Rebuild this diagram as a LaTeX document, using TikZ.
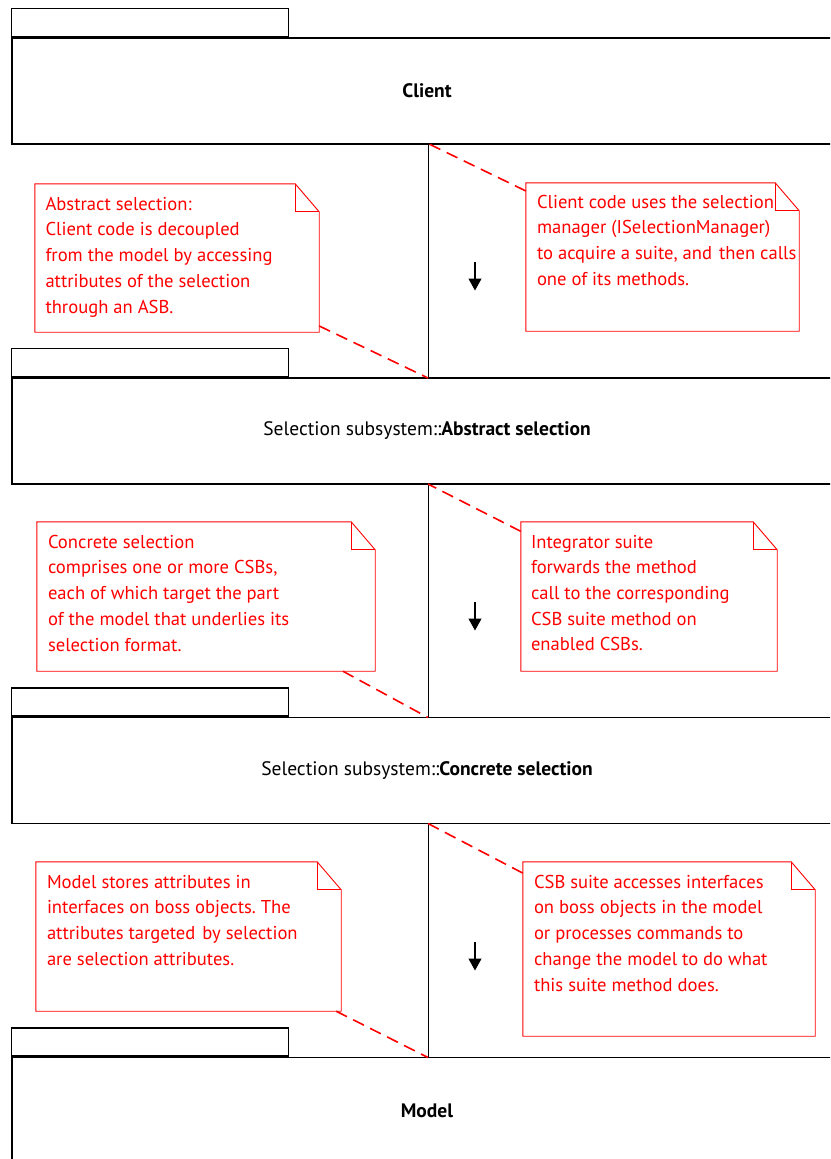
\documentclass[tikz,border=0pt]{standalone}
\usepackage{fontspec}
\setmainfont{PT Sans}
\usetikzlibrary{arrows.meta}
\frenchspacing

% outline of a UML note with a folded top-right corner, drawn round a node
\newcommand\foldnote[1]{%
  \draw[noteline] (#1.north west) -- ([xshift=-24]#1.north east)
    -- ([yshift=-28]#1.north east) -- (#1.south east) -- (#1.south west) -- cycle;
  \draw[noteline] ([xshift=-24]#1.north east) |- ([yshift=-28]#1.north east);
}
\newcommand\wsp{\hspace{7pt}}

\begin{document}
\begin{tikzpicture}[x=1pt,y=1pt,
  pkgbody/.style={draw=black, line width=1.7pt, rectangle, inner sep=0,
    minimum width=830, minimum height=106,
    font=\fontsize{19.5}{22}\selectfont},
  pkgtab/.style={draw=black, line width=1.2pt, rectangle, inner sep=0,
    minimum width=277, minimum height=28, anchor=south west},
  notebox/.style={draw=none, rectangle, inner sep=0},
  noteline/.style={draw=red, line width=0.9pt},
  notetext/.style={anchor=north west, inner sep=0, align=left, text=red,
    font=\fontsize{18.6}{25.7}\selectfont, execute at begin node=\strut},
  notelink/.style={draw=red, line width=1.6pt, dash pattern=on 12pt off 7pt},
  lifeline/.style={draw=black, line width=1pt},
  msgarrow/.style={draw=black, line width=1.1pt,
    -{Triangle[width=13pt,length=12pt]}}
]
\useasboundingbox (0,0) rectangle (830,-1159);
\clip (0,0) rectangle (830,-1159);

% packages
\node[pkgbody] (client) at (427,-91) {\textbf{Client}};
\node[pkgtab] (clienttab) at (client.north west) {};
\node[pkgbody] (abs) at (427,-431) {Selection subsystem::\textbf{Abstract selection}};
\node[pkgtab] (abstab) at (abs.north west) {};
\node[pkgbody] (conc) at (427,-770.5) {Selection subsystem::\textbf{Concrete selection}};
\node[pkgtab] (conctab) at (conc.north west) {};
\node[pkgbody] (model) at (427,-1110.5) {\textbf{Model}};
\node[pkgtab] (modeltab) at (model.north west) {};

% lifeline segments between packages
\coordinate (l1a) at (428,-143.5);
\coordinate (l1b) at (428,-378);
\coordinate (l2a) at (428,-484);
\coordinate (l2b) at (428,-717.5);
\coordinate (l3a) at (428,-823.5);
\coordinate (l3b) at (428,-1057.5);
\draw[lifeline] (l1a) -- (l1b);
\draw[lifeline] (l2a) -- (l2b);
\draw[lifeline] (l3a) -- (l3b);

% call direction arrows
\coordinate (a1s) at (475,-262);
\coordinate (a1e) at (475,-290.5);
\coordinate (a2s) at (475,-602);
\coordinate (a2e) at (475,-630.5);
\coordinate (a3s) at (475,-942);
\coordinate (a3e) at (475,-970.5);
\draw[msgarrow] (a1s) -- (a1e);
\draw[msgarrow] (a2s) -- (a2e);
\draw[msgarrow] (a3s) -- (a3e);

% notes
\node[notebox, minimum width=284, minimum height=148] (n1) at (177,-258) {};
\foldnote{n1}
\node[notetext] (n1text) at ([xshift=10.5,yshift=-13]n1.north west)
  {Abstract selection:\\Client code is decoupled\\from the model by accessing\\attributes of the selection\\through an ASB.};

\node[notebox, minimum width=273, minimum height=148] (n2) at (662.5,-257) {};
\foldnote{n2}
\node[notetext] (n2text) at ([xshift=11,yshift=-12]n2.north west)
  {Client code uses the selection\\manager (ISelectionManager)\\to acquire a suite, and\wsp then calls\\one of its methods.};

\node[notebox, minimum width=338, minimum height=149] (n3) at (206,-596.5) {};
\foldnote{n3}
\node[notetext] (n3text) at ([xshift=11,yshift=-13]n3.north west)
  {Concrete selection\\comprises one or more CSBs,\\each of which target the part\\of the model that underlies its\\selection format.};

\node[notebox, minimum width=256, minimum height=149] (n4) at (649,-596.5) {};
\foldnote{n4}
\node[notetext] (n4text) at ([xshift=10,yshift=-13]n4.north west)
  {Integrator suite\\forwards the method\\call to the corresponding\\CSB suite method on\\enabled CSBs.};

\node[notebox, minimum width=305, minimum height=149] (n5) at (188.5,-936.5) {};
\foldnote{n5}
\node[notetext] (n5text) at ([xshift=11,yshift=-13]n5.north west)
  {Model stores attributes in\\interfaces on boss objects. The\\attributes targeted\wsp by selection\\are selection attributes.};

\node[notebox, minimum width=292, minimum height=174] (n6) at (669,-949) {};
\foldnote{n6}
\node[notetext] (n6text) at ([xshift=11,yshift=-13]n6.north west)
  {CSB suite accesses interfaces\\on boss objects in the model\\or processes commands to\\change the model to do what\\this suite method does.};

% note anchors
\draw[notelink] (n1) -- (l1b);
\draw[notelink] (n2) -- (l1a);
\draw[notelink] (n3) -- (l2b);
\draw[notelink] (n4) -- (l2a);
\draw[notelink] (n5) -- (l3b);
\draw[notelink] (n6) -- (l3a);
\end{tikzpicture}
\end{document}
